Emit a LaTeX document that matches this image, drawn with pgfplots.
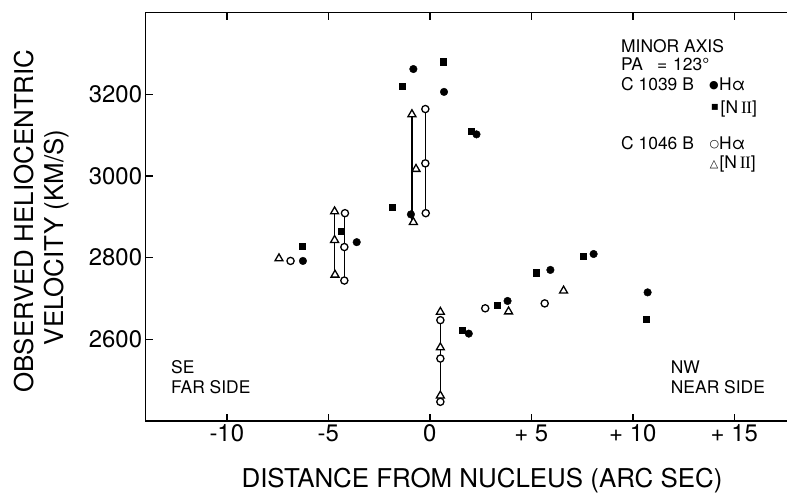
\documentclass[border=0pt]{standalone}
\usepackage{pgfplots}
\pgfplotsset{compat=1.18}
\usepackage{fontspec}
\setmainfont{TeX Gyre Heros}
\newfontfamily\symfont{DejaVu Sans}
\newfontfamily\romfont{Liberation Serif}
\newcommand{\NII}{[N\,{\romfont I\kern-0.03em I}]}
\begin{document}
\begin{tikzpicture}[x=1bp,y=1bp]
\useasboundingbox (0,0) rectangle (787,496);
\begin{axis}[
  at={(145.6bp,75bp)}, anchor=south west,
  scale only axis, width=643.5bp, height=408.3bp,
  xmin=-14, xmax=17.7, ymin=2400, ymax=3400,
  axis line style={line width=1.4bp},
  xtick={-10,-5,0,5,10,15}, xticklabels={-10,-5,0,+ 5,+ 10,+ 15},
  ytick={2600,2800,3000,3200}, yticklabels={2600,2800,3000,3200},
  ytick pos=left,
  tick align=inside, major tick length=7bp,
  tick style={line width=1.4bp, black},
  ticklabel style={font=\fontsize{24}{28}\selectfont},
  clip=false,
]
% connecting lines
\addplot[black, line width=1.4bp] coordinates {(-0.88,2889) (-0.88,3153)};
\addplot[black, line width=1.4bp] coordinates {(-0.21,2909) (-0.21,3164)};
\addplot[black, line width=1.4bp] coordinates {(-4.69,2760) (-4.69,2915)};
\addplot[black, line width=1.4bp] coordinates {(-4.20,2744) (-4.20,2909)};
\addplot[black, line width=1.4bp] coordinates {(0.52,2447) (0.52,2647)};
% C 1039 B [N II]
\addplot[only marks, mark=square*, mark size=3.1bp, black] coordinates {
(-6.28,2829) (-4.36,2864) (-1.85,2923) (-1.37,3219) (0.65,3280) (2.05,3110)
(1.59,2623) (3.31,2684) (5.23,2763) (7.55,2804) (10.65,2650)};
% C 1039 B H alpha
\addplot[only marks, mark=*, mark size=3.8bp, black] coordinates {
(-6.25,2792) (-3.60,2838) (-0.81,3262) (-0.93,2906) (0.70,3206) (2.30,3102)
(1.92,2614) (3.83,2694) (5.94,2770) (8.07,2809) (10.73,2715)};
% C 1046 B [N II]
\addplot[only marks, mark=triangle*, mark size=4.6bp, draw=black, fill=white, mark options={line width=1.3bp, fill=white}] coordinates {
(-7.43,2798) (-4.69,2913) (-4.69,2843) (-4.67,2758) (-0.88,3151) (-0.68,3017)
(-0.81,2887) (0.52,2667) (0.52,2580) (0.52,2462) (3.88,2668) (6.59,2719)};
% C 1046 B H alpha
\addplot[only marks, mark=*, mark size=3.6bp, draw=black, fill=white, mark options={line width=1.3bp, fill=white}] coordinates {
(-6.86,2792) (-4.18,2909) (-4.21,2826) (-4.21,2744) (-0.22,3164) (-0.22,3031)
(-0.20,2909) (0.52,2647) (0.52,2553) (0.52,2447) (2.73,2676) (5.66,2688)};
\end{axis}
% axis labels
\node[anchor=base, font=\fontsize{26}{30}\selectfont] at (482,8.5) {DISTANCE FROM NUCLEUS (ARC SEC)};
\node[rotate=90, anchor=base, font=\fontsize{26}{30}\selectfont] at (33.3,275) {OBSERVED HELIOCENTRIC};
\node[rotate=90, anchor=base, font=\fontsize{26}{30}\selectfont] at (63,258.5) {VELOCITY (KM/S)};
% annotations
\begin{scope}[every node/.style={inner sep=0pt, font=\fontsize{17.5}{20}\selectfont}]
\node[anchor=base west] at (621,443.3) {MINOR AXIS};
\node[anchor=base west] at (621,425.3) {PA};
\node[anchor=base west] at (657,425.3) {=};
\node[anchor=base west] at (673,425.3) {123°};
\node[anchor=base west] at (621,405) {C 1039 B};
\node[anchor=base west] at (719,405) {Hα};
\node[anchor=base west] at (720.5,382.7) {\NII};
\node[anchor=base west] at (621,346) {C 1046 B};
\node[anchor=base west] at (719,346) {Hα};
\node[anchor=base west] at (719.3,327.7) {\NII};
\node[anchor=base west] at (171,122.7) {SE};
\node[anchor=base west] at (171,102.7) {FAR SIDE};
\node[anchor=base west] at (670.7,122.7) {NW};
\node[anchor=base west] at (670.7,102) {NEAR SIDE};
\end{scope}
\begin{scope}[every node/.style={inner sep=0pt, font=\symfont\fontsize{11}{12}\selectfont}]
\node at (714,410) {●};
\node[font=\symfont\fontsize{12}{12}\selectfont] at (715,388.3) {▪};
\node at (714.5,351.7) {○};
\node at (714,331) {△};
\end{scope}
\end{tikzpicture}
\end{document}
